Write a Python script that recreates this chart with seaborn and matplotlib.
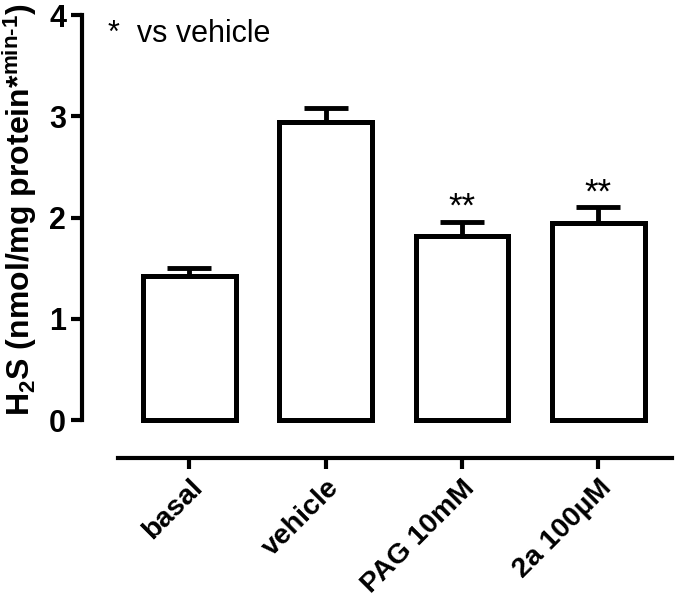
import matplotlib
matplotlib.use("Agg")
import matplotlib.pyplot as plt
import seaborn as sns
import pandas as pd

# 各组 H2S 生成速率 (均值 + SEM)
groups = ["basal", "vehicle", "PAG 10mM", "2a 100\u00b5M"]
means = [1.42, 2.94, 1.82, 1.95]
sems = [0.08, 0.14, 0.14, 0.15]
stars = ["", "", "**", "**"]

sns.set_theme(style="ticks")
plt.rcParams["font.family"] = ["Liberation Sans", "DejaVu Sans"]
plt.rcParams["mathtext.fontset"] = "custom"
plt.rcParams["mathtext.rm"] = "Liberation Sans:bold"
plt.rcParams["mathtext.it"] = "Liberation Sans:bold"
plt.rcParams["mathtext.bf"] = "Liberation Sans:bold"
plt.rcParams["axes.unicode_minus"] = False
for k in ("text.color", "axes.labelcolor", "xtick.color", "ytick.color"):
    plt.rcParams[k] = "black"

df = pd.DataFrame({"group": groups, "value": means})

fig = plt.figure(figsize=(6.75, 6.02), dpi=100)
ax = fig.add_axes([0.1215, 0.239, 0.874, 0.736])

sns.barplot(data=df, x="group", y="value", ax=ax, color="white",
            edgecolor="black", linewidth=3.6, width=0.68, errorbar=None,
            saturation=1)
for p in ax.patches:
    p.set_facecolor("white")
    p.set_zorder(2)

# 只画向上的误差线
ax.errorbar(range(len(groups)), means, yerr=[[0] * len(groups), sems],
            fmt="none", ecolor="black", elinewidth=3.5, capsize=16,
            capthick=3.5, zorder=1)

for i, s in enumerate(stars):
    if s:
        ax.text(i, means[i] + sems[i] + 0.05, s, ha="center", va="baseline",
                fontsize=25)

ax.text(0.044, 3.73, "*  vs vehicle", transform=ax.get_yaxis_transform(),
        ha="left", va="baseline", fontsize=22)

ax.set_ylim(-0.375, 4)
ax.set_xlim(-0.787, 3.54)
ax.set_yticks([0, 1, 2, 3, 4])
ax.spines["left"].set_bounds(0, 4)
ax.spines["bottom"].set_bounds(-0.52, 3.54)
ax.spines["top"].set_visible(False)
ax.spines["right"].set_visible(False)
for sp in ("left", "bottom"):
    ax.spines[sp].set_linewidth(3)
    ax.spines[sp].set_color("black")

ax.tick_params(axis="both", width=3, length=8, color="black", labelsize=22)
ax.tick_params(axis="x", labelsize=20.5, pad=4)
for lab in ax.get_yticklabels():
    lab.set_fontweight("bold")
ax.set_xticks(range(len(groups)))
ax.set_xticklabels(groups, rotation=45, ha="right", rotation_mode="anchor",
                   fontweight="bold")

ax.set_xlabel("")
ax.set_ylabel("H$_\\mathregular{2}$S (nmol/mg protein*$^\\mathregular{min\u20101}$)",
              fontsize=23, fontweight="bold")
ax.yaxis.set_label_coords(-0.073, 0.56)

fig.savefig("out.png", dpi=100)
